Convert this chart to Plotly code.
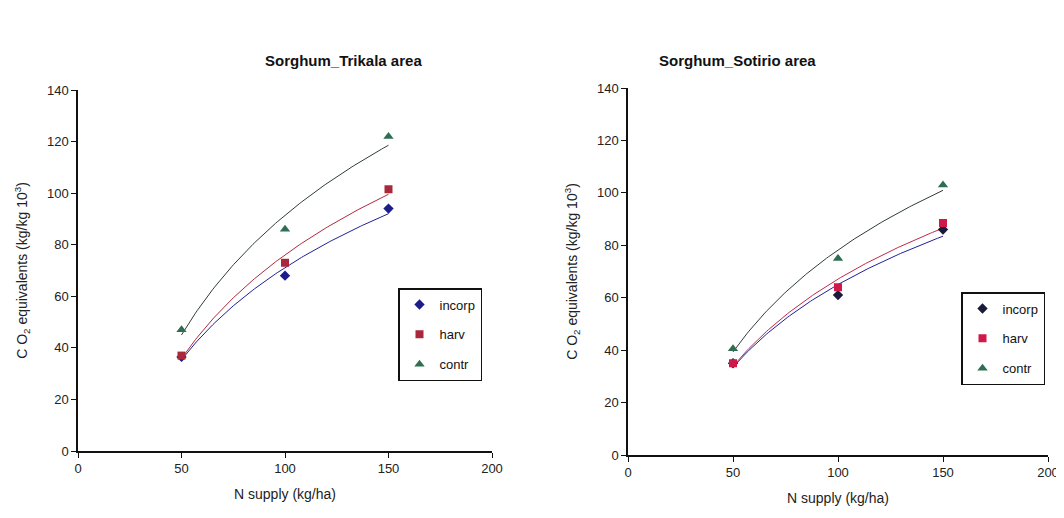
import numpy as np
import plotly.graph_objects as go

# ---- data ----
n_supply = [50, 100, 150]
series_names = ["incorp", "harv", "contr"]

trikala_incorp = [36.5, 68, 94]
trikala_harv = [37, 73, 101.5]
trikala_contr = [47, 86, 122]

sotirio_incorp = [35, 61, 86]
sotirio_harv = [35, 64, 88.5]
sotirio_contr = [40.5, 75, 103]

titles = ["Sorghum_Trikala area", "Sorghum_Sotirio area"]
x_title = "N supply (kg/ha)"
y_title = "C O<sub>2</sub> equivalents (kg/kg 10<sup>3</sup>)"
x_ticks = [0, 50, 100, 150, 200]
y_ticks = [0, 20, 40, 60, 80, 100, 120, 140]

# ---- styles ----
symbols = ["diamond", "square", "triangle-up"]
marker_sizes = [8, 8, 9]
marker_colors_left = ["#1c1c8c", "#a8283c", "#2f6e52"]
marker_colors_right = ["#1a1a3a", "#d0184a", "#2f6e52"]
line_colors_left = ["#20209a", "#b02a3e", "#2e3e36"]
line_colors_right = ["#20209a", "#c0284a", "#2e3e36"]

fig = go.Figure()


def add_panel(fig, data, xa, ya, legend, mcolors, lcolors):
    x = np.array(n_supply, dtype=float)
    xs = np.linspace(x.min(), x.max(), 120)
    for i, (name, ys) in enumerate(zip(series_names, data)):
        # logarithmic trendline fitted to the points (as in the source)
        b, a = np.polyfit(np.log(x), np.array(ys, dtype=float), 1)
        fig.add_trace(go.Scatter(
            x=xs, y=a + b * np.log(xs), mode="lines",
            line=dict(color=lcolors[i], width=1),
            xaxis=xa, yaxis=ya, showlegend=False, hoverinfo="skip"))
    for i, (name, ys) in enumerate(zip(series_names, data)):
        fig.add_trace(go.Scatter(
            x=n_supply, y=ys, mode="markers", name=name,
            marker=dict(symbol=symbols[i], color=mcolors[i], size=marker_sizes[i]),
            xaxis=xa, yaxis=ya, legend=legend, legendgroup=legend + name))


add_panel(fig, [trikala_incorp, trikala_harv, trikala_contr], "x", "y", "legend",
          marker_colors_left, line_colors_left)
add_panel(fig, [sotirio_incorp, sotirio_harv, sotirio_contr], "x2", "y2", "legend2",
          marker_colors_right, line_colors_right)

W, H = 1064, 518
OFF = 8  # page body margin


def px(v):
    return (v - OFF) / W


def py(v):
    return 1 - (v - OFF) / H


tick_font = dict(family="Arial", size=13, color="#222")
title_font = dict(family="Arial", size=14, color="#222")


def xaxis(dom, anchor):
    return dict(domain=dom, anchor=anchor, range=[0, 200], tickvals=x_ticks,
                showline=True, linecolor="#111", linewidth=1.5, ticks="outside",
                ticklen=5, tickcolor="#111", showgrid=False, zeroline=False,
                automargin=False, tickfont=tick_font,
                title=dict(text=x_title, font=title_font, standoff=14))


def yaxis(dom, anchor):
    return dict(domain=dom, anchor=anchor, range=[0, 140], tickvals=y_ticks,
                showline=True, linecolor="#111", linewidth=1.5, ticks="outside",
                ticklen=5, tickcolor="#111", showgrid=False, zeroline=False,
                automargin=False, tickfont=tick_font,
                title=dict(text=y_title, font=title_font, standoff=16))


legend_common = dict(bordercolor="#111", borderwidth=1.5, bgcolor="white",
                     font=dict(family="Arial", size=13, color="#111"),
                     traceorder="grouped", tracegroupgap=10,
                     itemwidth=30, xanchor="right", yanchor="top")

fig.update_layout(
    width=W, height=H,
    margin=dict(l=0, r=0, t=0, b=0, autoexpand=False),
    paper_bgcolor="white", plot_bgcolor="white",
    xaxis=xaxis([px(78), px(492)], "y"),
    yaxis=yaxis([py(451), py(90)], "x"),
    xaxis2=xaxis([px(628), px(1048)], "y2"),
    yaxis2=yaxis([py(455), py(88)], "x2"),
    legend=dict(x=px(482), y=py(288), **legend_common),
    legend2=dict(x=px(1045), y=py(292), **legend_common),
    annotations=[
        dict(text="<b>" + titles[0] + "</b>", x=px(263), y=py(50), xref="paper", yref="paper",
             showarrow=False, font=dict(family="Arial", size=15, color="#111")),
        dict(text="<b>" + titles[1] + "</b>", x=px(818), y=py(50), xref="paper", yref="paper",
             showarrow=False, font=dict(family="Arial", size=15, color="#111")),
    ],
)

fig.write_html("out.html")
